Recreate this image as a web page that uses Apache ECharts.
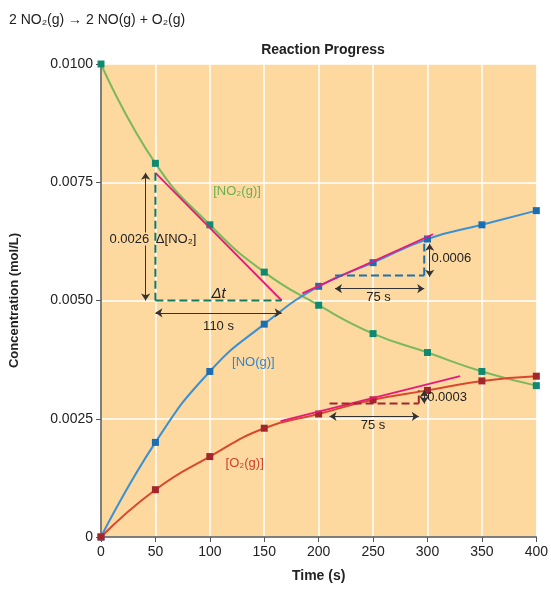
<!DOCTYPE html>
<html><head><meta charset="utf-8">
<script src="https://cdn.jsdelivr.net/npm/echarts@6/dist/echarts.min.js"></script>
<style>body{margin:0;background:#fff}#c{width:551px;height:597px}</style>
</head><body><div id="c"></div>
<script>
const times = [0, 50, 100, 150, 200, 250, 300, 350, 400];
const no2 = [0.0100, 0.0079, 0.0066, 0.0056, 0.0049, 0.0043, 0.0039, 0.0035, 0.0032];
const no = [0, 0.0020, 0.0035, 0.0045, 0.0053, 0.0058, 0.0063, 0.0066, 0.0069];
const o2 = [0, 0.0010, 0.0017, 0.0023, 0.0026, 0.0029, 0.0031, 0.0033, 0.0034];
const yTicks = ['0', '0.0025', '0.0050', '0.0075', '0.0100'];

const FONT = '"Liberation Sans Narrow", "Liberation Sans", sans-serif';
const pts = arr => times.map((t, i) => [t, arr[i]]);
const seg = (a, b, color, type, w) => ({
  type: 'line', data: [a, b], symbol: 'none', silent: true, z: 4,
  lineStyle: { color, type: type || 'solid', width: w || 1.6 }
});
const arrow = (a, b, label, pos) => [
  { coord: a, symbol: 'arrow', label: label ? { show: true, formatter: label, position: pos || 'middle', color: '#222', fontSize: 13, fontFamily: FONT } : { show: false } },
  { coord: b, symbol: 'arrow' }
];

const chart = echarts.init(document.getElementById('c'));
chart.setOption({
  animation: false,
  backgroundColor: '#fff',
  textStyle: { fontFamily: FONT },
  grid: { left: 97, right: 11, top: 64, bottom: 60, backgroundColor: '#fdd9a0', show: true, borderWidth: 0 },
  title: [
    { text: '2 NO₂(g) → 2 NO(g) + O₂(g)', left: 4, top: 8, textStyle: { fontSize: 14, fontWeight: 'normal', color: '#222', fontFamily: FONT } },
    { text: 'Reaction Progress', left: 318, top: 38, textAlign: 'center', textStyle: { fontSize: 14, fontWeight: 'bold', color: '#222', fontFamily: FONT } }
  ],
  xAxis: {
    type: 'value', min: 0, max: 400, interval: 50, name: 'Time (s)', nameLocation: 'middle', nameGap: 32,
    nameTextStyle: { fontWeight: 'bold', fontSize: 14, color: '#222' },
    axisLine: { lineStyle: { color: '#555', width: 1.5 } }, axisTick: { show: true, lineStyle: { color: '#555' } },
    axisLabel: { color: '#222', fontSize: 14 }, splitLine: { lineStyle: { color: '#fff', width: 1.5 } }
  },
  yAxis: {
    type: 'value', min: 0, max: 0.01, interval: 0.0025, name: 'Concentration (mol/L)', nameLocation: 'middle', nameGap: 80,
    nameTextStyle: { fontWeight: 'bold', fontSize: 13, color: '#222' },
    axisLine: { show: true, lineStyle: { color: '#555', width: 1.5 } }, axisTick: { show: true, lineStyle: { color: '#555' } },
    axisLabel: { color: '#222', fontSize: 14, formatter: (v) => yTicks[Math.round(v / 0.0025)] },
    splitLine: { lineStyle: { color: '#fff', width: 1.5 } }
  },
  series: [
    { name: 'NO2', type: 'line', smooth: true, data: pts(no2), symbol: 'rect', symbolSize: 7, showSymbol: true,
      lineStyle: { color: '#7cb85e', width: 2 }, itemStyle: { color: '#0f8a70' }, z: 3 },
    { name: 'NO', type: 'line', smooth: true, data: pts(no), symbol: 'rect', symbolSize: 7,
      lineStyle: { color: '#3b90d2', width: 2 }, itemStyle: { color: '#1c6eb4' }, z: 3 },
    { name: 'O2', type: 'line', smooth: true, data: pts(o2), symbol: 'rect', symbolSize: 7,
      lineStyle: { color: '#d9482c', width: 2 }, itemStyle: { color: '#a2262a' }, z: 3 },
    // tangents
    seg([50, 0.0077], [166, 0.0050], '#e8187e', 'solid', 1.8),
    seg([185, 0.00515], [305, 0.0064], '#e8187e', 'solid', 1.8),
    seg([165, 0.00245], [330, 0.0034], '#e8187e', 'solid', 1.8),
    // dashed triangles
    seg([50, 0.0077], [50, 0.0050], '#117a5c', 'dashed', 2),
    seg([50, 0.0050], [166, 0.0050], '#117a5c', 'dashed', 2),
    seg([215, 0.00553], [297, 0.00553], '#1d6fb0', 'dashed', 2),
    seg([297, 0.00553], [297, 0.0062], '#1d6fb0', 'dashed', 2),
    seg([210, 0.00282], [292, 0.00282], '#a2262a', 'dashed', 2),
    seg([292, 0.00282], [292, 0.0031], '#a2262a', 'dashed', 2),
    {
      type: 'scatter', data: [], silent: true,
      markLine: {
        silent: true, symbolSize: 7, lineStyle: { color: '#333', type: 'solid', width: 1 },
        data: [
          arrow([41, 0.0077], [41, 0.0050]),
          arrow([50, 0.00474], [166, 0.00474]),
          arrow([215, 0.00525], [297, 0.00525]),
          arrow([210, 0.00255], [292, 0.00255]),
          arrow([302, 0.0055], [302, 0.0062]),
          arrow([297, 0.00282], [297, 0.0031])
        ]
      },
      markPoint: {
        symbol: 'rect', symbolSize: 0, silent: true,
        label: { color: '#222', fontSize: 13, fontFamily: FONT },
        data: [
          { coord: [26, 0.0063], label: { formatter: '0.0026', backgroundColor: '#fdd9a0' } },
          { coord: [69, 0.0063], label: { formatter: 'Δ[NO₂]' } },
          { coord: [108, 0.00515], label: { formatter: 'Δt', fontSize: 15, fontStyle: 'italic' } },
          { coord: [108, 0.00445], label: { formatter: '110 s' } },
          { coord: [255, 0.00506], label: { formatter: '75 s' } },
          { coord: [250, 0.00236], label: { formatter: '75 s' } },
          { coord: [322, 0.00588], label: { formatter: '0.0006' } },
          { coord: [318, 0.00296], label: { formatter: '0.0003' } },
          { coord: [125, 0.0073], label: { formatter: '[NO₂(g)]', color: '#6cae4e' } },
          { coord: [140, 0.0037], label: { formatter: '[NO(g)]', color: '#2f86cc' } },
          { coord: [132, 0.00155], label: { formatter: '[O₂(g)]', color: '#d0402a' } }
        ]
      }
    }
  ]
});
</script></body></html>
